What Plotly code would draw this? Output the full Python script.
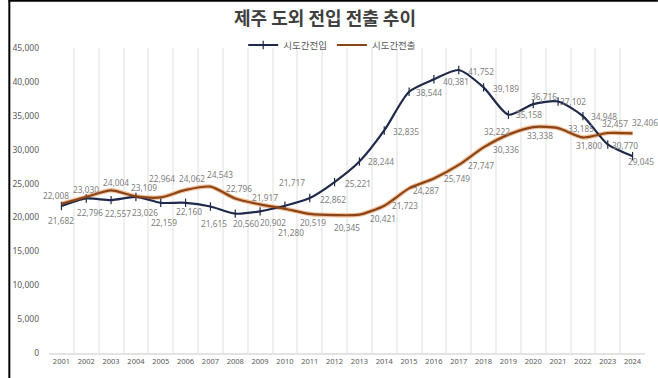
import plotly.graph_objects as go

years = [str(y) for y in range(2001, 2025)]
inflow = [21682, 22796, 22557, 23026, 22159, 22160, 21615, 20560, 20902, 21717,
          22862, 25221, 28244, 32835, 38544, 40381, 41752, 39189, 35158, 36716,
          37102, 34948, 30770, 29045]
outflow = [22008, 23030, 24004, 23109, 22964, 24062, 24543, 22796, 21917, 21280,
           20519, 20345, 20421, 21723, 24287, 25749, 27747, 30336, 32222, 33338,
           33185, 31800, 32457, 32406]
yticks = [0, 5000, 10000, 15000, 20000, 25000, 30000, 35000, 40000, 45000]
series_names = ["시도간전입", "시도간전출"]
title_text = "제주 도외 전입 전출 추이"

# label offsets in pixels (dx right, dy up) -- styling only
in_off = [(0, -14), (4, -14), (7, -13), (9, -16), (3, -20), (3, -9), (4, -17), (11, -10),
          (13, -11), (7, 23), (23, -1), (23, -1), (22, 0), (22, -1), (20, -1), (22, -2),
          (22, -1), (22, -1), (21, 0), (11, 8), (15, 0), (21, 0), (17, -1), (8, -5)]
out_off = [(-5, 8), (0, 7), (5, 8), (8, 9), (1, 19), (6, 11), (10, 12), (4, 10),
           (5, 7), (6, -24), (3, -9), (12, -12), (24, -4), (21, 0), (17, -2), (23, 0),
           (22, -1), (22, -2), (-11, 3), (7, -8), (23, 0), (6, -8), (7, 10), (12, 11)]

NAVY = "#1f2a4a"
BROWN = "#8a4518"
HALO = "#f3c09a"
LABEL = "#808080"
font_fam = "Noto Sans, Noto Sans CJK KR, sans-serif"
cjk = "Noto Sans CJK KR, Noto Sans, sans-serif"

fig = go.Figure()
fig.add_trace(go.Scatter(x=years, y=outflow, mode="lines",
                         line=dict(color=HALO, width=4.5, shape="spline", smoothing=0.7),
                         showlegend=False, hoverinfo="skip"))
fig.add_trace(go.Scatter(x=years, y=inflow, mode="lines+markers", name=series_names[0],
                         line=dict(color=NAVY, width=2.2, shape="spline", smoothing=0.7),
                         marker=dict(symbol="line-ns", size=6, line=dict(color=NAVY, width=1.2))))
fig.add_trace(go.Scatter(x=years, y=outflow, mode="lines", name=series_names[1],
                         line=dict(color=BROWN, width=2.2, shape="spline", smoothing=0.7)))

annotations = []
for vals, offs in ((inflow, in_off), (outflow, out_off)):
    for i, (v, (dx, dy)) in enumerate(zip(vals, offs)):
        annotations.append(dict(x=i, y=v, xref="x", yref="y", text=f"{v:,}",
                                showarrow=False, xshift=dx, yshift=dy,
                                font=dict(size=8.3, color=LABEL, family=font_fam)))

L, R, T, B = 41, 13, 48, 25
W, H = 658, 378
pw, ph = W - L - R, H - T - B
px = lambda p: (p - L) / pw
py = lambda p: (H - B - p) / ph

fig.update_layout(
    width=W, height=H,
    margin=dict(l=L, r=R, t=T, b=B),
    paper_bgcolor="white", plot_bgcolor="white",
    font=dict(family=font_fam, color="#595959", size=9),
    title=dict(text=f"<b>{title_text}</b>", x=325 / W, xref="container", xanchor="center",
               y=1 - 18.5 / H, yref="container", yanchor="middle",
               font=dict(size=18, color="#404040", family=cjk)),
    legend=dict(orientation="h", x=px(328), xanchor="center", y=py(45), yanchor="middle",
                font=dict(size=9.5, color="#595959", family=cjk), bgcolor="rgba(0,0,0,0)",
                itemwidth=30, tracegroupgap=0),
    showlegend=True,
    hovermode=False,
    annotations=annotations,
    xaxis=dict(type="category", range=[-0.5, 23.5], tickson="boundaries", tickangle=0,
               showgrid=True, gridcolor="#efefef", gridwidth=1.5,
               showline=True, linecolor="#e3e3e3", linewidth=1.5,
               ticks="", tickfont=dict(size=7.5, color="#595959"), fixedrange=True),
    yaxis=dict(range=[0, 45000], tickvals=yticks, ticktext=[f"{v:,}" for v in yticks],
               showgrid=False, zeroline=False, showline=False, fixedrange=True,
               tickfont=dict(size=8.5, color="#595959"), ticks="", ticklabelstandoff=9),
    shapes=[
        dict(type="line", xref="paper", yref="paper", x0=px(0), x1=px(W), y0=py(0.8), y1=py(0.8),
             line=dict(color="black", width=2)),
        dict(type="line", xref="paper", yref="paper", x0=px(0.8), x1=px(0.8), y0=py(0), y1=py(H),
             line=dict(color="black", width=2)),
    ],
)
fig.write_html("out.html", config={"displayModeBar": False},
               post_script="document.body.style.margin='0px';document.body.style.overflow='hidden';")
